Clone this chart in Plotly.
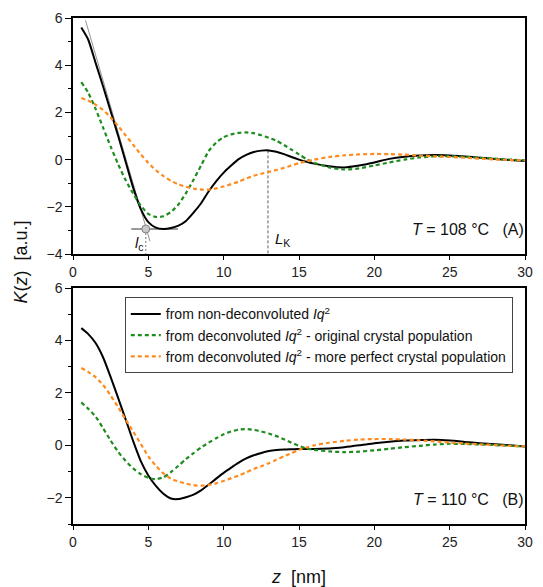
import plotly.graph_objects as go
from plotly.subplots import make_subplots

# ---- data: panel A (T = 108 °C) ----
a_x = [0.55, 1.0, 1.5, 2.0, 2.5, 3.0, 3.5, 4.0, 4.5, 5.0, 5.5, 6.0, 6.5, 7.0, 7.5, 8.0, 8.5, 9.0, 9.5, 10.0,
       10.5, 11.0, 11.5, 12.0, 12.5, 13.0, 13.5, 14.0, 14.5, 15.0, 15.5, 16.0, 17.0, 18.0, 19.0, 20.0, 21.0,
       22.0, 23.0, 24.0, 25.0, 26.0, 27.0, 28.0, 29.0, 30.0]
a_black = [5.6, 5.1, 4.1, 3.1, 2.05, 1.0, -0.1, -1.2, -2.1, -2.65, -2.88, -2.94, -2.9, -2.8, -2.6, -2.25, -1.85, -1.35, -0.92, -0.55,
           -0.25, 0.02, 0.2, 0.32, 0.38, 0.39, 0.33, 0.23, 0.11, 0.0, -0.09, -0.17, -0.28, -0.33, -0.25, -0.12, 0.03,
           0.12, 0.17, 0.19, 0.17, 0.13, 0.08, 0.03, -0.02, -0.06]
a_green = [3.28, 2.85, 2.15, 1.35, 0.55, -0.2, -0.88, -1.45, -1.95, -2.3, -2.43, -2.4, -2.22, -1.9, -1.42, -0.85, -0.25, 0.35, 0.72, 0.95,
           1.07, 1.13, 1.15, 1.12, 1.03, 0.92, 0.8, 0.62, 0.42, 0.22, 0.02, -0.13, -0.33, -0.42, -0.37, -0.25, -0.12,
           0.0, 0.09, 0.14, 0.14, 0.12, 0.08, 0.04, 0.0, -0.03]
a_orange = [2.61, 2.5, 2.33, 2.1, 1.78, 1.42, 1.02, 0.62, 0.22, -0.14, -0.45, -0.7, -0.9, -1.05, -1.15, -1.23, -1.27, -1.27, -1.22, -1.14,
            -1.04, -0.93, -0.8, -0.68, -0.6, -0.52, -0.44, -0.35, -0.25, -0.15, -0.07, 0.0, 0.11, 0.18, 0.22, 0.24, 0.23,
            0.21, 0.17, 0.14, 0.11, 0.08, 0.04, 0.01, -0.02, -0.03]

# ---- data: panel B (T = 110 °C) ----
b_x = a_x
b_black = [4.47, 4.25, 3.9, 3.35, 2.6, 1.8, 0.98, 0.15, -0.6, -1.15, -1.55, -1.85, -2.03, -2.05, -1.98, -1.88, -1.72, -1.5, -1.27, -1.05,
           -0.85, -0.66, -0.5, -0.38, -0.29, -0.22, -0.18, -0.16, -0.15, -0.14, -0.14, -0.14, -0.12, -0.07, 0.0, 0.08, 0.14,
           0.18, 0.2, 0.21, 0.18, 0.13, 0.08, 0.04, 0.0, -0.04]
b_green = [1.64, 1.4, 1.1, 0.65, 0.18, -0.25, -0.6, -0.88, -1.1, -1.24, -1.29, -1.22, -1.02, -0.78, -0.52, -0.3, -0.08, 0.1, 0.27, 0.42,
           0.53, 0.6, 0.62, 0.59, 0.53, 0.45, 0.35, 0.23, 0.1, -0.02, -0.12, -0.17, -0.23, -0.26, -0.24, -0.19, -0.13,
           -0.07, -0.02, 0.03, 0.06, 0.05, 0.03, 0.01, -0.02, -0.04]
b_orange = [2.95, 2.8, 2.6, 2.3, 1.9, 1.45, 0.98, 0.52, 0.05, -0.42, -0.78, -1.07, -1.27, -1.38, -1.46, -1.52, -1.54, -1.51, -1.45, -1.36,
            -1.25, -1.15, -1.03, -0.9, -0.8, -0.68, -0.55, -0.42, -0.3, -0.17, -0.08, 0.0, 0.1, 0.17, 0.22, 0.24, 0.24,
            0.22, 0.19, 0.15, 0.11, 0.07, 0.04, 0.01, -0.02, -0.04]

# ---- construction lines in panel A ----
tangent_x = [0.83, 5.11]
tangent_y = [5.9, -3.46]
min_line_x = [3.87, 6.96]
min_line_y = [-2.94, -2.94]
lc_x = [4.83, 4.83]
lc_y = [-2.94, -4.0]
lk_x = [12.94, 12.94]
lk_y = [0.39, -4.0]

names = [
    "from non-deconvoluted <i>Iq</i><sup>2</sup>",
    "from deconvoluted <i>Iq</i><sup>2</sup> - original crystal population",
    "from deconvoluted <i>Iq</i><sup>2</sup> - more perfect crystal population",
]
colors = ["black", "#1f8c1f", "#ff8a1e"]
dashes = ["solid", "4px,3px", "4px,3px"]

FONT = "Arial, Liberation Sans, sans-serif"

fig = make_subplots(rows=2, cols=1, vertical_spacing=0.0672)

panels = [
    (1, a_x, [a_black, a_green, a_orange]),
    (2, b_x, [b_black, b_green, b_orange]),
]

# construction lines
fig.add_trace(go.Scatter(x=tangent_x, y=tangent_y, mode="lines", line=dict(color="#777777", width=0.8), showlegend=False, hoverinfo="skip"), row=1, col=1)
fig.add_trace(go.Scatter(x=min_line_x, y=min_line_y, mode="lines", line=dict(color="#777777", width=1.5), showlegend=False, hoverinfo="skip"), row=1, col=1)
fig.add_trace(go.Scatter(x=lc_x, y=lc_y, mode="lines", line=dict(color="#555555", width=0.8, dash="2px,2px"), showlegend=False, hoverinfo="skip"), row=1, col=1)
fig.add_trace(go.Scatter(x=lk_x, y=lk_y, mode="lines", line=dict(color="#333333", width=0.8, dash="3px,2px"), showlegend=False, hoverinfo="skip"), row=1, col=1)

for row, xs, series in panels:
    for i, ys in enumerate(series):
        fig.add_trace(go.Scatter(
            x=xs, y=ys, mode="lines", name=names[i],
            line=dict(color=colors[i], width=2 if i == 0 else 2.2, dash=dashes[i], shape="spline", smoothing=0.6),
            showlegend=(row == 2), hoverinfo="skip"), row=row, col=1)

# gray marker at l_c
fig.add_trace(go.Scatter(x=[lc_x[0]], y=[min_line_y[0]], mode="markers",
                         marker=dict(size=8, color="#c8c8c8", line=dict(color="#808080", width=1)),
                         showlegend=False, hoverinfo="skip"), row=1, col=1)

axis_common = dict(showline=True, linecolor="black", linewidth=1.5, mirror=True,
                   ticks="outside", tickcolor="black", tickwidth=1.2,
                   showgrid=False, zeroline=False,
                   tickfont=dict(family=FONT, size=14, color="#222222"))

for r in (1, 2):
    fig.update_xaxes(range=[0, 30], tickvals=[0, 5, 10, 15, 20, 25, 30], ticklen=4, row=r, col=1, **axis_common)

fig.update_yaxes(range=[-4, 6], tickvals=[-4, -2, 0, 2, 4, 6], ticklen=6,
                 minor=dict(tickvals=[-3, -1, 1, 3, 5], ticklen=3, tickcolor="black", ticks="outside"),
                 row=1, col=1, **axis_common)
fig.update_yaxes(range=[-3, 6], tickvals=[-2, 0, 2, 4, 6], ticklen=6,
                 minor=dict(tickvals=[-3, -1, 1, 3, 5], ticklen=3, tickcolor="black", ticks="outside"),
                 row=2, col=1, **axis_common)

annos = [
    dict(x=29.9, y=-2.97, xref="x", yref="y", xshift=3, text="<i>T</i> = 108 °C &nbsp; (A)", showarrow=False,
         xanchor="right", yanchor="middle", font=dict(family=FONT, size=16, color="#111111")),
    dict(x=29.9, y=-2.07, xref="x2", yref="y2", xshift=3, text="<i>T</i> = 110 °C &nbsp; (B)", showarrow=False,
         xanchor="right", yanchor="middle", font=dict(family=FONT, size=16, color="#111111")),
    dict(x=4.4, y=-3.55, xref="x", yref="y", text="<i>l</i><sub>c</sub>", showarrow=False,
         xanchor="center", yanchor="middle", font=dict(family=FONT, size=15, color="#111111")),
    dict(x=13.9, y=-3.4, xref="x", yref="y", text="<i>L</i><sub>K</sub>", showarrow=False,
         xanchor="center", yanchor="middle", font=dict(family=FONT, size=15, color="#111111")),
    dict(x=-0.116, y=0.518, xref="paper", yref="paper", text="<i>K</i>(<i>z</i>) &nbsp;[a.u.]", showarrow=False,
         textangle=-90, xanchor="center", yanchor="middle", font=dict(family=FONT, size=18, color="#111111")),
    dict(x=0.4995, y=-0.104, xref="paper", yref="paper", text="<i>z</i> &nbsp;[nm]", showarrow=False,
         xanchor="center", yanchor="middle", font=dict(family=FONT, size=18, color="#111111")),
]

fig.update_layout(
    width=543, height=587,
    margin=dict(l=73, r=10, t=18, b=63),
    paper_bgcolor="white", plot_bgcolor="white",
    font=dict(family=FONT, color="#111111"),
    annotations=annos,
    legend=dict(x=0.1146, y=0.448, xanchor="left", yanchor="top",
                bgcolor="white", bordercolor="#444444", borderwidth=1,
                font=dict(family=FONT, size=14, color="#111111"),
                itemwidth=30, tracegroupgap=0),
)

fig.write_html("out.html", config={"displayModeBar": False},
               post_script="document.body.style.margin='0';document.body.style.overflow='hidden';")
